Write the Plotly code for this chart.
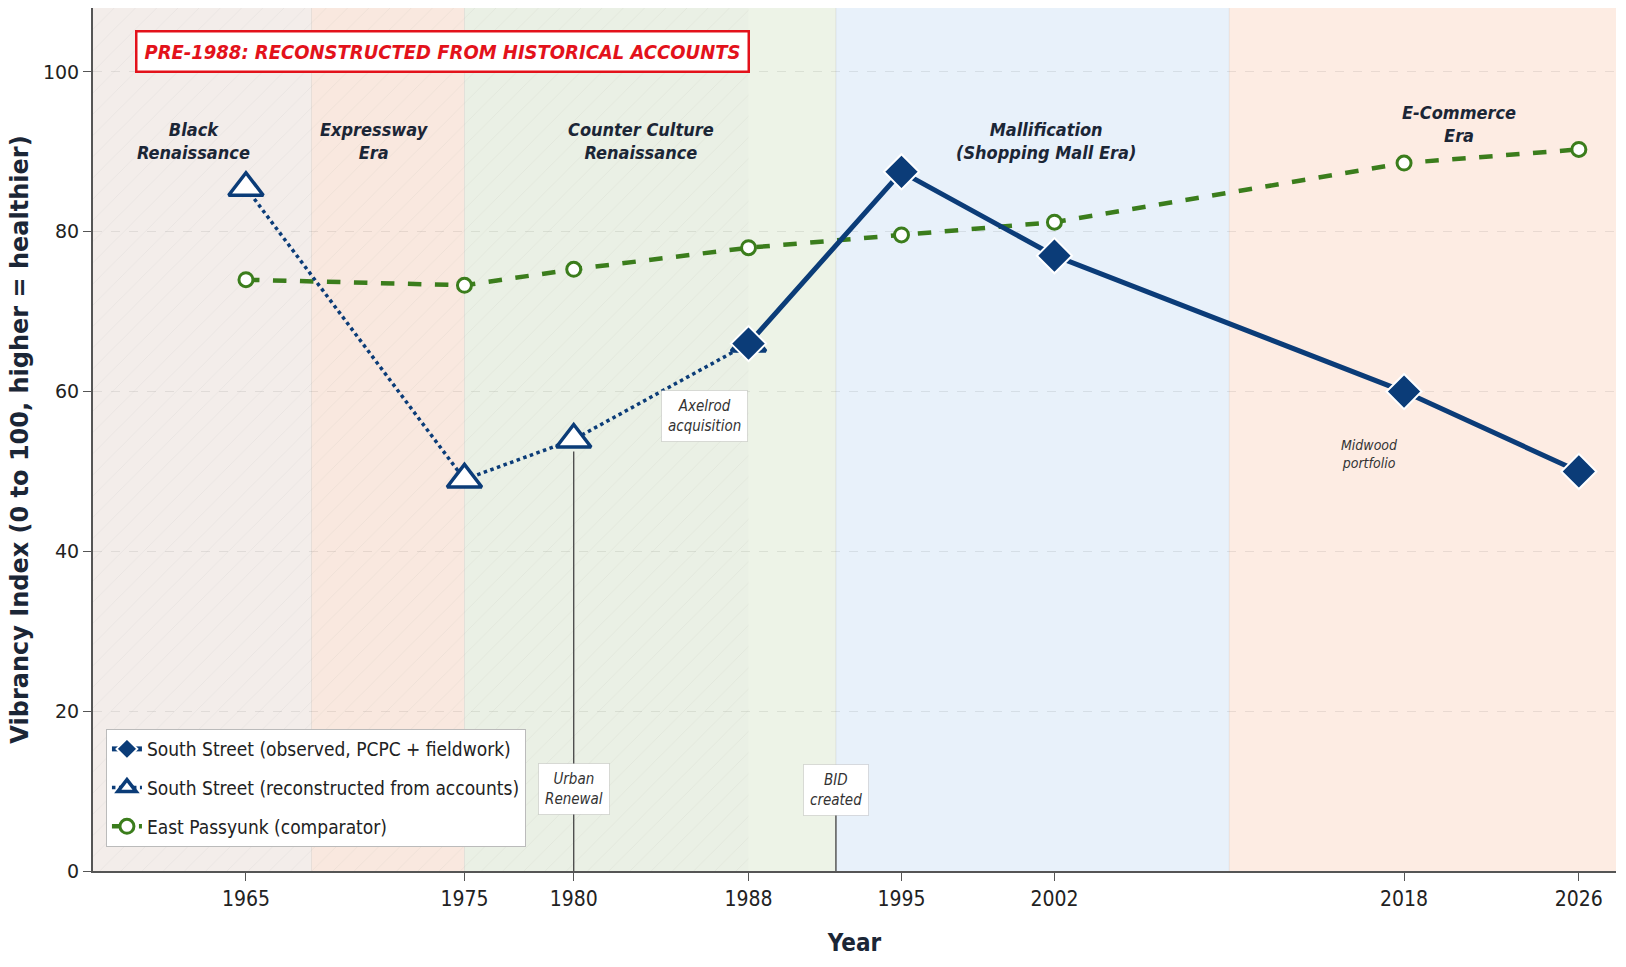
import plotly.graph_objects as go

# ---------------- data ----------------
obs_years = [1988, 1995, 2002, 2018, 2026]
obs_vals = [66, 87.5, 77, 60, 50]

rec_years = [1965, 1975, 1980, 1988]
rec_vals = [85.5, 49, 54, 66]

ep_years = [1965, 1975, 1980, 1988, 1995, 2002, 2018, 2026]
ep_vals = [74, 73.3, 75.3, 78, 79.6, 81.2, 88.6, 90.3]

tick_years = [1965, 1975, 1980, 1988, 1995, 2002, 2018, 2026]

X_MIN, X_MAX = 1958.0, 2027.7
Y_MIN, Y_MAX = 0, 108

era_names = ["Black<br>Renaissance", "Expressway<br>Era", "Counter Culture<br>Renaissance",
             "Mallification<br>(Shopping Mall Era)", "E-Commerce<br>Era"]
era_start = [X_MIN, 1968, 1975, 1992, 2010]
era_end = [1968, 1975, 1992, 2010, X_MAX]
era_colors = ["#f6f0ed", "#fcebe1", "#edf3e7", "#e8f1fa", "#fdece3"]
era_label_x = [1962.6, 1970.9, 1983.1, 2001.6, 2020.5]
era_label_y = [91.4, 91.4, 91.4, 91.4, 93.5]

reconstructed_until = 1988

event_names = ["Urban<br>Renewal", "BID<br>created", "Axelrod<br>acquisition"]
event_x = [1980, 1992, 1986]
event_label_y = [10.3, 10.1, 56.9]
event_line_top = [52.5, 13.2, None]

note_text = "Midwood<br>portfolio"
note_x, note_y = 2016.4, 52.2

NAVY = "#0b3c78"
GREEN = "#3b7d1c"
RED = "#e3121b"
TXT = "#1b2636"
COND = "DejaVu Sans Condensed, DejaVu Sans, sans-serif"

fig = go.Figure()

# hatch overlay for reconstructed period
fig.add_trace(go.Scatter(
    x=[X_MIN, reconstructed_until, reconstructed_until, X_MIN, X_MIN],
    y=[Y_MIN, Y_MIN, Y_MAX, Y_MAX, Y_MIN],
    fill="toself", mode="none", hoverinfo="skip", showlegend=False,
    fillcolor="rgba(110,120,100,0.025)",
    fillpattern=dict(shape="/", fgcolor="rgba(150,150,150,0.3)", size=15, solidity=0.05,
                     bgcolor="rgba(110,120,100,0.025)"),
))

fig.add_trace(go.Scatter(
    x=ep_years, y=ep_vals, mode="lines+markers", name="East Passyunk (comparator)",
    line=dict(color=GREEN, width=4.5, dash="dash"),
    marker=dict(symbol="circle", size=14, color="white", line=dict(color=GREEN, width=3)),
    legendrank=3, legendgroup="c",
))
fig.add_trace(go.Scatter(
    x=rec_years, y=rec_vals, mode="lines+markers",
    name="South Street (reconstructed from accounts)",
    line=dict(color=NAVY, width=3.5, dash="dot"),
    marker=dict(symbol="triangle-up", size=30, color="white", line=dict(color=NAVY, width=3.5)),
    legendrank=2, legendgroup="b",
))
fig.add_trace(go.Scatter(
    x=obs_years, y=obs_vals, mode="lines+markers",
    name="South Street (observed, PCPC + fieldwork)",
    line=dict(color=NAVY, width=5),
    marker=dict(symbol="diamond", size=27, color=NAVY, line=dict(color="white", width=2)),
    legendrank=1, legendgroup="a",
))

shapes = []
for s, e, c in zip(era_start, era_end, era_colors):
    shapes.append(dict(type="rect", xref="x", yref="y", x0=s, x1=e, y0=Y_MIN, y1=Y_MAX,
                       fillcolor=c, line=dict(width=0), layer="below"))
for b in era_start[1:]:
    shapes.append(dict(type="line", xref="x", yref="y", x0=b, x1=b, y0=Y_MIN, y1=Y_MAX,
                       line=dict(color="rgba(0,0,0,0.07)", width=1), layer="below"))
for ex, top in zip(event_x, event_line_top):
    if top is not None:
        shapes.append(dict(type="line", xref="x", yref="y", x0=ex, x1=ex, y0=Y_MIN, y1=top,
                           line=dict(color="#444", width=1.3), layer="above"))

annotations = []
for name, lx, ly in zip(era_names, era_label_x, era_label_y):
    annotations.append(dict(x=lx, y=ly, xref="x", yref="y", text="<b><i>" + name + "</i></b>",
                            showarrow=False, font=dict(family=COND, size=18, color=TXT)))
for name, ex, ey in zip(event_names, event_x, event_label_y):
    annotations.append(dict(x=ex, y=ey, xref="x", yref="y", text="<i>" + name + "</i>",
                            showarrow=False, font=dict(family=COND, size=15, color="#333"),
                            bgcolor="white", bordercolor="rgba(0,0,0,0.12)", borderwidth=1,
                            borderpad=6))
annotations.append(dict(x=note_x, y=note_y, xref="x", yref="y", text="<i>" + note_text + "</i>",
                        showarrow=False, font=dict(family=COND, size=14, color="#333")))
annotations.append(dict(x=0.0275, y=0.950, xref="paper", yref="paper",
                        xanchor="left", yanchor="middle",
                        text="<b><i>PRE-1988: RECONSTRUCTED FROM HISTORICAL ACCOUNTS</i></b>",
                        showarrow=False, font=dict(family=COND, size=20, color=RED),
                        bgcolor="white", bordercolor=RED, borderwidth=2.5, borderpad=7))

fig.update_layout(
    width=1626, height=967,
    margin=dict(l=93, r=10, t=8, b=96),
    paper_bgcolor="white", plot_bgcolor="white",
    shapes=shapes, annotations=annotations,
    font=dict(family="DejaVu Sans, sans-serif", color="#222"),
    legend=dict(x=0.0085, y=0.1645, xanchor="left", yanchor="top",
                bgcolor="white", bordercolor="#bbbbbb", borderwidth=1,
                font=dict(family=COND, size=19, color="#222"),
                traceorder="grouped", tracegroupgap=11),
    xaxis=dict(range=[X_MIN, X_MAX], tickvals=tick_years, ticks="outside", ticklen=8,
               tickcolor="#555", showline=True, linecolor="#555", linewidth=2,
               showgrid=False, zeroline=False,
               tickfont=dict(family=COND, size=21, color="#222"),
               title=dict(text="<b>Year</b>", font=dict(family=COND, size=24, color=TXT),
                          standoff=24)),
    yaxis=dict(range=[Y_MIN, Y_MAX], tickvals=[0, 20, 40, 60, 80, 100], ticks="outside",
               ticklen=8, tickcolor="#555", showline=True, linecolor="#555", linewidth=2,
               showgrid=True, gridcolor="rgba(0,0,0,0.08)", griddash="dash", zeroline=False,
               tickfont=dict(size=19, color="#222"),
               title=dict(text="<b>Vibrancy Index (0 to 100, higher = healthier)</b>",
                          font=dict(family="DejaVu Sans, sans-serif", size=24, color=TXT),
                          standoff=8)),
)

fig.write_html("out.html")
